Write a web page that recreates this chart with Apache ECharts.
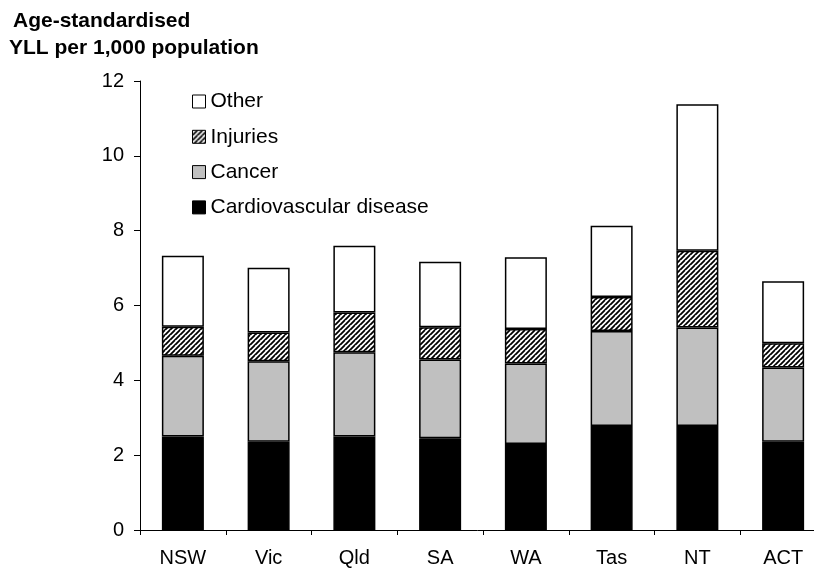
<!DOCTYPE html>
<html>
<head>
<meta charset="utf-8">
<script src="https://cdn.jsdelivr.net/npm/echarts@6/dist/echarts.min.js"></script>
<style>
html,body{margin:0;padding:0;background:#fff;}
#chart{width:814px;height:571px;}
</style>
</head>
<body>
<div id="chart"></div>
<script>
const categories = ['NSW', 'Vic', 'Qld', 'SA', 'WA', 'Tas', 'NT', 'ACT'];
const cvd      = [2.50, 2.36, 2.50, 2.45, 2.30, 2.78, 2.78, 2.36];
const cancer   = [2.16, 2.15, 2.25, 2.11, 2.15, 2.54, 2.63, 1.98];
const injuries = [0.77, 0.77, 1.06, 0.86, 0.92, 0.91, 2.05, 0.65];
const other    = [1.90, 1.73, 1.79, 1.75, 1.92, 1.90, 3.92, 1.66];
const seriesNames = ['Cardiovascular disease', 'Cancer', 'Injuries', 'Other'];
const legendOrder = ['Other', 'Injuries', 'Cancer', 'Cardiovascular disease'];
const yTicks = [0, 2, 4, 6, 8, 10, 12];
const titleLines = ['Age-standardised', 'YLL per 1,000 population'];

const FONT = '"Liberation Sans", Arial, sans-serif';

// diagonal hatch pattern
const P = 5;
const pc = document.createElement('canvas');
pc.width = P; pc.height = P;
const g = pc.getContext('2d');
g.fillStyle = '#fff';
g.fillRect(0, 0, P, P);
g.strokeStyle = '#000';
g.lineWidth = 1.8;
g.beginPath();
for (let k = -P; k <= 2 * P; k += P) {
  g.moveTo(k - P, 2 * P);
  g.lineTo(k + P, 0);
}
g.stroke();

const chart = echarts.init(document.getElementById('chart'), null, {renderer: 'canvas'});

const fills = {
  'Cardiovascular disease': '#000000',
  'Cancer': '#c0c0c0',
  'Injuries': {image: pc, repeat: 'repeat'},
  'Other': '#ffffff'
};
const dataMap = {
  'Cardiovascular disease': cvd,
  'Cancer': cancer,
  'Injuries': injuries,
  'Other': other
};

const option = {
  animation: false,
  backgroundColor: '#fff',
  textStyle: {fontFamily: FONT},
  graphic: [
    {type: 'text', x: 13, y: 21, style: {text: titleLines[0], font: 'bold 21px ' + FONT, fill: '#000', verticalAlign: 'middle'}},
    {type: 'text', x: 9, y: 48, style: {text: titleLines[1], font: 'bold 21px ' + FONT, fill: '#000', verticalAlign: 'middle'}}
  ],
  legend: {
    data: legendOrder,
    orient: 'vertical',
    left: 192,
    top: 91,
    padding: 0,
    itemWidth: 13,
    itemHeight: 13,
    itemGap: 14.3,
    icon: 'rect',
    itemStyle: {borderColor: '#000', borderWidth: 1},
    textStyle: {fontSize: 21, color: '#000', fontFamily: FONT, lineHeight: 21}
  },
  grid: {left: 140, right: -12, top: 81, bottom: 41, containLabel: false, outerBoundsMode: 'none'},
  xAxis: {
    type: 'category',
    data: categories,
    boundaryGap: true,
    axisLine: {lineStyle: {color: '#000', width: 1}},
    axisTick: {show: true, alignWithLabel: false, length: 5, lineStyle: {color: '#000'}},
    axisLabel: {fontSize: 20, color: '#000', margin: 18, fontFamily: FONT}
  },
  yAxis: {
    type: 'value',
    min: yTicks[0],
    max: yTicks[yTicks.length - 1],
    interval: 2,
    axisLine: {show: true, lineStyle: {color: '#000', width: 1}},
    axisTick: {show: true, length: 6, lineStyle: {color: '#000'}},
    axisLabel: {fontSize: 20, color: '#000', margin: 16, fontFamily: FONT},
    splitLine: {show: false}
  },
  series: seriesNames.map(name => ({
    name: name,
    type: 'bar',
    stack: 'total',
    barWidth: 42,
    data: dataMap[name],
    itemStyle: {color: fills[name], borderColor: '#000', borderWidth: 1.5}
  }))
};
chart.setOption(option);
</script>
</body>
</html>
